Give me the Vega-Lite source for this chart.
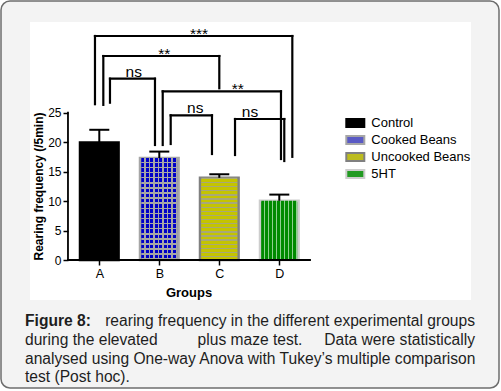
{
"$schema": "https://vega.github.io/schema/vega-lite/v6.json",
"width": 498, "height": 387,
"autosize": "none",
"padding": {"left": 1, "top": 1, "right": 2, "bottom": 3},
"background": "white",
"config": {"view": {"fill": "#f3f3f3", "stroke": "#6e6e6e", "strokeWidth": 1.5, "cornerRadius": 9}, "font": "Liberation Sans"},
"datasets": {
 "one": [{}],
 "bars": [
  {"group": "A", "name": "Control", "pos": 1, "mean": 19.95, "upper": 22.1},
  {"group": "B", "name": "Cooked Beans", "pos": 2, "mean": 17.3, "upper": 18.4},
  {"group": "C", "name": "Uncooked Beans", "pos": 3, "mean": 13.95, "upper": 14.55},
  {"group": "D", "name": "5HT", "pos": 4, "mean": 10.05, "upper": 11.1}
 ],
 "brackets": [
  {"x1": 0.928, "x2": 4.217, "top": 38.02, "b1": 26.44, "b2": 17.51, "lx": 2.662, "label": "***"},
  {"x1": 1.067, "x2": 3.0, "top": 34.62, "b1": 26.33, "b2": 29.15, "lx": 2.083, "label": "**"},
  {"x1": 1.178, "x2": 1.928, "top": 30.77, "b1": 26.7, "b2": 19.52, "lx": 1.575, "label": "ns"},
  {"x1": 2.057, "x2": 4.028, "top": 28.63, "b1": 19.52, "b2": 17.14, "lx": 3.308, "label": "**"},
  {"x1": 2.19, "x2": 2.878, "top": 24.56, "b1": 19.69, "b2": 17.99, "lx": 2.6, "label": "ns"},
  {"x1": 3.262, "x2": 4.083, "top": 23.93, "b1": 17.82, "b2": 16.8, "lx": 3.512, "label": "ns"}
 ],
 "caption": [
  {"line": 1, "part": "bold", "text": "Figure 8:"},
  {"line": 1, "part": "right", "text": "rearing frequency in the different experimental groups"},
  {"line": 2, "part": "left", "text": "during the elevated"},
  {"line": 2, "part": "center", "text": "plus maze test."},
  {"line": 2, "part": "right", "text": "Data were statistically"},
  {"line": 3, "part": "left", "text": "analysed using One-way Anova with Tukey’s multiple comparison"},
  {"line": 4, "part": "left", "text": "test (Post hoc)."}
 ]
},
"layer": [
 {
  "layer": [
   {"data": {"name": "one"}, "mark": {"type": "rect", "fill": "white"},
    "encoding": {"x": {"datum": -0.155}, "x2": {"datum": 7.195}, "y": {"datum": 40.39}, "y2": {"datum": -6.789}}},
   {"data": {"name": "bars"}, "mark": {"type": "bar", "orient": "vertical", "size": 38.5, "strokeWidth": 2.6},
    "encoding": {
     "x": {"field": "pos", "type": "quantitative", "scale": {"domain": [-0.6383, 7.6617], "nice": false, "zero": false, "padding": 0},
      "axis": {"zindex": 1, "values": [1, 2, 3, 4], "labelExpr": "['','A','B','C','D'][datum.value]", "domain": false, "grid": false, "offset": -128, "tickSize": 5, "tickWidth": 1.5, "tickColor": "black", "labelFontSize": 12.5, "labelColor": "black", "labelPadding": 2, "labelFlush": false, "labelOverlap": false, "title": "Groups", "titleFontSize": 13, "titleFontWeight": "bold", "titleColor": "black", "titleX": 187.5, "titleY": 32.7, "titleAlign": "center", "titleBaseline": "middle"}},
     "y": {"field": "mean", "type": "quantitative", "scale": {"domain": [-21.724, 43.958], "nice": false, "zero": false, "padding": 0},
      "axis": {"zindex": 1, "values": [0, 5, 10, 15, 20, 25], "domain": false, "grid": false, "offset": -67, "tickSize": 5, "tickWidth": 1.5, "tickColor": "black", "labelFontSize": 12, "labelColor": "black", "labelPadding": 2, "labelFlush": false, "labelOverlap": false, "title": "Rearing frequency (/5min)", "titleFontSize": 12, "titleFontWeight": "bold", "titleColor": "black", "titleX": -29.5, "titleY": 185, "titleAlign": "center", "titleBaseline": "middle", "titleAngle": -90}},
     "y2": {"datum": 0},
     "fill": {"field": "name", "type": "nominal",
      "scale": {"domain": ["Control", "Cooked Beans", "Uncooked Beans", "5HT"], "range": ["#000000", "#5a5ac4", "#bcbc20", "#229a22"]},
      "legend": {"title": null, "orient": "none", "legendX": 346.3, "legendY": 114, "padding": 0, "symbolType": "M-1.35,-0.6H1.35V0.6H-1.35Z", "symbolSize": 178, "symbolStrokeWidth": 2, "symbolOpacity": 1, "labelFontSize": 13, "labelFont": "Liberation Sans", "labelColor": "black", "labelOffset": 8, "rowPadding": -1.4}},
     "stroke": {"field": "name", "type": "nominal",
      "scale": {"domain": ["Control", "Cooked Beans", "Uncooked Beans", "5HT"], "range": ["#000000", "#a6a6a6", "#808080", "#cdcdcd"]},
      "legend": {"title": null, "orient": "none", "legendX": 346.3, "legendY": 114, "padding": 0, "symbolType": "M-1.35,-0.6H1.35V0.6H-1.35Z", "symbolSize": 178, "symbolStrokeWidth": 2, "symbolOpacity": 1, "labelFontSize": 13, "labelFont": "Liberation Sans", "labelColor": "black", "labelOffset": 8, "rowPadding": -1.4}}
    }},
   {"data": {"name": "bars"}, "transform": [{"filter": "datum.group == 'B'"}],
    "mark": {"type": "bar", "orient": "vertical", "size": 36, "strokeWidth": 0,
     "fill": {"gradient": "linear", "x1": 0, "y1": 0, "x2": 1, "y2": 0, "stops": [
         {"offset": 0, "color": "#0000c8"}, {"offset": 0.0875, "color": "#0000c8"}, {"offset": 0.0875, "color": "#a6a6a6"}, {"offset": 0.125, "color": "#a6a6a6"},
         {"offset": 0.125, "color": "#0000c8"}, {"offset": 0.2125, "color": "#0000c8"}, {"offset": 0.2125, "color": "#a6a6a6"}, {"offset": 0.25, "color": "#a6a6a6"},
         {"offset": 0.25, "color": "#0000c8"}, {"offset": 0.3375, "color": "#0000c8"}, {"offset": 0.3375, "color": "#a6a6a6"}, {"offset": 0.375, "color": "#a6a6a6"},
         {"offset": 0.375, "color": "#0000c8"}, {"offset": 0.4625, "color": "#0000c8"}, {"offset": 0.4625, "color": "#a6a6a6"}, {"offset": 0.5, "color": "#a6a6a6"},
         {"offset": 0.5, "color": "#0000c8"}, {"offset": 0.5875, "color": "#0000c8"}, {"offset": 0.5875, "color": "#a6a6a6"}, {"offset": 0.625, "color": "#a6a6a6"},
         {"offset": 0.625, "color": "#0000c8"}, {"offset": 0.7125, "color": "#0000c8"}, {"offset": 0.7125, "color": "#a6a6a6"}, {"offset": 0.75, "color": "#a6a6a6"},
         {"offset": 0.75, "color": "#0000c8"}, {"offset": 0.8375, "color": "#0000c8"}, {"offset": 0.8375, "color": "#a6a6a6"}, {"offset": 0.875, "color": "#a6a6a6"},
         {"offset": 0.875, "color": "#0000c8"}, {"offset": 0.9625, "color": "#0000c8"}, {"offset": 0.9625, "color": "#a6a6a6"}, {"offset": 1, "color": "#a6a6a6"}
     ]}},
    "encoding": {"x": {"field": "pos", "type": "quantitative"}, "y": {"field": "mean", "type": "quantitative"}, "y2": {"datum": 0}}},
   {"data": {"name": "bars"}, "transform": [{"filter": "datum.group == 'B'"}],
    "mark": {"type": "bar", "orient": "vertical", "size": 36, "strokeWidth": 0,
     "fill": {"gradient": "linear", "x1": 0, "y1": 0, "x2": 0, "y2": 1, "stops": [
      {"offset": 0, "color": "rgba(166,166,166,0)"}, {"offset": 0.035, "color": "rgba(166,166,166,0)"}, {"offset": 0.035, "color": "#a6a6a6"}, {"offset": 0.05, "color": "#a6a6a6"},
      {"offset": 0.05, "color": "rgba(166,166,166,0)"}, {"offset": 0.085, "color": "rgba(166,166,166,0)"}, {"offset": 0.085, "color": "#a6a6a6"}, {"offset": 0.1, "color": "#a6a6a6"},
      {"offset": 0.1, "color": "rgba(166,166,166,0)"}, {"offset": 0.135, "color": "rgba(166,166,166,0)"}, {"offset": 0.135, "color": "#a6a6a6"}, {"offset": 0.15, "color": "#a6a6a6"},
      {"offset": 0.15, "color": "rgba(166,166,166,0)"}, {"offset": 0.185, "color": "rgba(166,166,166,0)"}, {"offset": 0.185, "color": "#a6a6a6"}, {"offset": 0.2, "color": "#a6a6a6"},
      {"offset": 0.2, "color": "rgba(166,166,166,0)"}, {"offset": 0.235, "color": "rgba(166,166,166,0)"}, {"offset": 0.235, "color": "#a6a6a6"}, {"offset": 0.25, "color": "#a6a6a6"},
      {"offset": 0.25, "color": "rgba(166,166,166,0)"}, {"offset": 0.285, "color": "rgba(166,166,166,0)"}, {"offset": 0.285, "color": "#a6a6a6"}, {"offset": 0.3, "color": "#a6a6a6"},
      {"offset": 0.3, "color": "rgba(166,166,166,0)"}, {"offset": 0.335, "color": "rgba(166,166,166,0)"}, {"offset": 0.335, "color": "#a6a6a6"}, {"offset": 0.35, "color": "#a6a6a6"},
      {"offset": 0.35, "color": "rgba(166,166,166,0)"}, {"offset": 0.385, "color": "rgba(166,166,166,0)"}, {"offset": 0.385, "color": "#a6a6a6"}, {"offset": 0.4, "color": "#a6a6a6"},
      {"offset": 0.4, "color": "rgba(166,166,166,0)"}, {"offset": 0.435, "color": "rgba(166,166,166,0)"}, {"offset": 0.435, "color": "#a6a6a6"}, {"offset": 0.45, "color": "#a6a6a6"},
      {"offset": 0.45, "color": "rgba(166,166,166,0)"}, {"offset": 0.485, "color": "rgba(166,166,166,0)"}, {"offset": 0.485, "color": "#a6a6a6"}, {"offset": 0.5, "color": "#a6a6a6"},
      {"offset": 0.5, "color": "rgba(166,166,166,0)"}, {"offset": 0.535, "color": "rgba(166,166,166,0)"}, {"offset": 0.535, "color": "#a6a6a6"}, {"offset": 0.55, "color": "#a6a6a6"},
      {"offset": 0.55, "color": "rgba(166,166,166,0)"}, {"offset": 0.585, "color": "rgba(166,166,166,0)"}, {"offset": 0.585, "color": "#a6a6a6"}, {"offset": 0.6, "color": "#a6a6a6"},
      {"offset": 0.6, "color": "rgba(166,166,166,0)"}, {"offset": 0.635, "color": "rgba(166,166,166,0)"}, {"offset": 0.635, "color": "#a6a6a6"}, {"offset": 0.65, "color": "#a6a6a6"},
      {"offset": 0.65, "color": "rgba(166,166,166,0)"}, {"offset": 0.685, "color": "rgba(166,166,166,0)"}, {"offset": 0.685, "color": "#a6a6a6"}, {"offset": 0.7, "color": "#a6a6a6"},
      {"offset": 0.7, "color": "rgba(166,166,166,0)"}, {"offset": 0.735, "color": "rgba(166,166,166,0)"}, {"offset": 0.735, "color": "#a6a6a6"}, {"offset": 0.75, "color": "#a6a6a6"},
      {"offset": 0.75, "color": "rgba(166,166,166,0)"}, {"offset": 0.785, "color": "rgba(166,166,166,0)"}, {"offset": 0.785, "color": "#a6a6a6"}, {"offset": 0.8, "color": "#a6a6a6"},
      {"offset": 0.8, "color": "rgba(166,166,166,0)"}, {"offset": 0.835, "color": "rgba(166,166,166,0)"}, {"offset": 0.835, "color": "#a6a6a6"}, {"offset": 0.85, "color": "#a6a6a6"},
      {"offset": 0.85, "color": "rgba(166,166,166,0)"}, {"offset": 0.885, "color": "rgba(166,166,166,0)"}, {"offset": 0.885, "color": "#a6a6a6"}, {"offset": 0.9, "color": "#a6a6a6"},
      {"offset": 0.9, "color": "rgba(166,166,166,0)"}, {"offset": 0.935, "color": "rgba(166,166,166,0)"}, {"offset": 0.935, "color": "#a6a6a6"}, {"offset": 0.95, "color": "#a6a6a6"},
      {"offset": 0.95, "color": "rgba(166,166,166,0)"}, {"offset": 0.985, "color": "rgba(166,166,166,0)"}, {"offset": 0.985, "color": "#a6a6a6"}, {"offset": 1, "color": "#a6a6a6"}
     ]}},
    "encoding": {"x": {"field": "pos", "type": "quantitative"}, "y": {"field": "mean", "type": "quantitative"}, "y2": {"datum": 0}}},
   {"data": {"name": "bars"}, "transform": [{"filter": "datum.group == 'C'"}],
    "mark": {"type": "bar", "orient": "vertical", "size": 36, "strokeWidth": 0,
     "fill": {"gradient": "linear", "x1": 0, "y1": 0, "x2": 0, "y2": 1, "stops": [
         {"offset": 0, "color": "#a8a878"}, {"offset": 0.016, "color": "#a8a878"}, {"offset": 0.016, "color": "#c4c400"}, {"offset": 0.05, "color": "#c4c400"},
         {"offset": 0.05, "color": "#a8a878"}, {"offset": 0.066, "color": "#a8a878"}, {"offset": 0.066, "color": "#c4c400"}, {"offset": 0.1, "color": "#c4c400"},
         {"offset": 0.1, "color": "#a8a878"}, {"offset": 0.116, "color": "#a8a878"}, {"offset": 0.116, "color": "#c4c400"}, {"offset": 0.15, "color": "#c4c400"},
         {"offset": 0.15, "color": "#a8a878"}, {"offset": 0.166, "color": "#a8a878"}, {"offset": 0.166, "color": "#c4c400"}, {"offset": 0.2, "color": "#c4c400"},
         {"offset": 0.2, "color": "#a8a878"}, {"offset": 0.216, "color": "#a8a878"}, {"offset": 0.216, "color": "#c4c400"}, {"offset": 0.25, "color": "#c4c400"},
         {"offset": 0.25, "color": "#a8a878"}, {"offset": 0.266, "color": "#a8a878"}, {"offset": 0.266, "color": "#c4c400"}, {"offset": 0.3, "color": "#c4c400"},
         {"offset": 0.3, "color": "#a8a878"}, {"offset": 0.316, "color": "#a8a878"}, {"offset": 0.316, "color": "#c4c400"}, {"offset": 0.35, "color": "#c4c400"},
         {"offset": 0.35, "color": "#a8a878"}, {"offset": 0.366, "color": "#a8a878"}, {"offset": 0.366, "color": "#c4c400"}, {"offset": 0.4, "color": "#c4c400"},
         {"offset": 0.4, "color": "#a8a878"}, {"offset": 0.416, "color": "#a8a878"}, {"offset": 0.416, "color": "#c4c400"}, {"offset": 0.45, "color": "#c4c400"},
         {"offset": 0.45, "color": "#a8a878"}, {"offset": 0.466, "color": "#a8a878"}, {"offset": 0.466, "color": "#c4c400"}, {"offset": 0.5, "color": "#c4c400"},
         {"offset": 0.5, "color": "#a8a878"}, {"offset": 0.516, "color": "#a8a878"}, {"offset": 0.516, "color": "#c4c400"}, {"offset": 0.55, "color": "#c4c400"},
         {"offset": 0.55, "color": "#a8a878"}, {"offset": 0.566, "color": "#a8a878"}, {"offset": 0.566, "color": "#c4c400"}, {"offset": 0.6, "color": "#c4c400"},
         {"offset": 0.6, "color": "#a8a878"}, {"offset": 0.616, "color": "#a8a878"}, {"offset": 0.616, "color": "#c4c400"}, {"offset": 0.65, "color": "#c4c400"},
         {"offset": 0.65, "color": "#a8a878"}, {"offset": 0.666, "color": "#a8a878"}, {"offset": 0.666, "color": "#c4c400"}, {"offset": 0.7, "color": "#c4c400"},
         {"offset": 0.7, "color": "#a8a878"}, {"offset": 0.716, "color": "#a8a878"}, {"offset": 0.716, "color": "#c4c400"}, {"offset": 0.75, "color": "#c4c400"},
         {"offset": 0.75, "color": "#a8a878"}, {"offset": 0.766, "color": "#a8a878"}, {"offset": 0.766, "color": "#c4c400"}, {"offset": 0.8, "color": "#c4c400"},
         {"offset": 0.8, "color": "#a8a878"}, {"offset": 0.816, "color": "#a8a878"}, {"offset": 0.816, "color": "#c4c400"}, {"offset": 0.85, "color": "#c4c400"},
         {"offset": 0.85, "color": "#a8a878"}, {"offset": 0.866, "color": "#a8a878"}, {"offset": 0.866, "color": "#c4c400"}, {"offset": 0.9, "color": "#c4c400"},
         {"offset": 0.9, "color": "#a8a878"}, {"offset": 0.916, "color": "#a8a878"}, {"offset": 0.916, "color": "#c4c400"}, {"offset": 0.95, "color": "#c4c400"},
         {"offset": 0.95, "color": "#a8a878"}, {"offset": 0.966, "color": "#a8a878"}, {"offset": 0.966, "color": "#c4c400"}, {"offset": 1, "color": "#c4c400"}
     ]}},
    "encoding": {"x": {"field": "pos", "type": "quantitative"}, "y": {"field": "mean", "type": "quantitative"}, "y2": {"datum": 0}}},
   {"data": {"name": "bars"}, "transform": [{"filter": "datum.group == 'D'"}],
    "mark": {"type": "bar", "orient": "vertical", "size": 36, "strokeWidth": 0,
     "fill": {"gradient": "linear", "x1": 0, "y1": 0, "x2": 1, "y2": 0, "stops": [
         {"offset": 0, "color": "#008a00"}, {"offset": 0.081, "color": "#008a00"}, {"offset": 0.081, "color": "#8fcf8f"}, {"offset": 0.1111, "color": "#8fcf8f"},
         {"offset": 0.1111, "color": "#008a00"}, {"offset": 0.1921, "color": "#008a00"}, {"offset": 0.1921, "color": "#8fcf8f"}, {"offset": 0.2222, "color": "#8fcf8f"},
         {"offset": 0.2222, "color": "#008a00"}, {"offset": 0.3032, "color": "#008a00"}, {"offset": 0.3032, "color": "#8fcf8f"}, {"offset": 0.3333, "color": "#8fcf8f"},
         {"offset": 0.3333, "color": "#008a00"}, {"offset": 0.4143, "color": "#008a00"}, {"offset": 0.4143, "color": "#8fcf8f"}, {"offset": 0.4444, "color": "#8fcf8f"},
         {"offset": 0.4444, "color": "#008a00"}, {"offset": 0.5254, "color": "#008a00"}, {"offset": 0.5254, "color": "#8fcf8f"}, {"offset": 0.5556, "color": "#8fcf8f"},
         {"offset": 0.5556, "color": "#008a00"}, {"offset": 0.6366, "color": "#008a00"}, {"offset": 0.6366, "color": "#8fcf8f"}, {"offset": 0.6667, "color": "#8fcf8f"},
         {"offset": 0.6667, "color": "#008a00"}, {"offset": 0.7477, "color": "#008a00"}, {"offset": 0.7477, "color": "#8fcf8f"}, {"offset": 0.7778, "color": "#8fcf8f"},
         {"offset": 0.7778, "color": "#008a00"}, {"offset": 0.8588, "color": "#008a00"}, {"offset": 0.8588, "color": "#8fcf8f"}, {"offset": 0.8889, "color": "#8fcf8f"},
         {"offset": 0.8889, "color": "#008a00"}, {"offset": 0.9699, "color": "#008a00"}, {"offset": 0.9699, "color": "#8fcf8f"}, {"offset": 1, "color": "#8fcf8f"}
     ]}},
    "encoding": {"x": {"field": "pos", "type": "quantitative"}, "y": {"field": "mean", "type": "quantitative"}, "y2": {"datum": 0}}},
   {"data": {"name": "bars"}, "mark": {"type": "rule", "color": "black", "strokeWidth": 2},
    "encoding": {"x": {"field": "pos", "type": "quantitative"}, "y": {"field": "mean", "type": "quantitative"}, "y2": {"field": "upper"}}},
   {"data": {"name": "bars"}, "mark": {"type": "tick", "orient": "horizontal", "color": "black", "size": 20, "thickness": 2, "opacity": 1},
    "encoding": {"x": {"field": "pos", "type": "quantitative"}, "y": {"field": "upper", "type": "quantitative"}}},
   {"data": {"name": "one"}, "mark": {"type": "rule", "color": "black", "strokeWidth": 1.8, "strokeCap": "square"},
    "encoding": {"x": {"datum": 0.478}, "y": {"datum": 0}, "y2": {"datum": 25}}},
   {"data": {"name": "one"}, "mark": {"type": "rule", "color": "black", "strokeWidth": 1.8, "strokeCap": "square"},
    "encoding": {"x": {"datum": 0.478}, "x2": {"datum": 4.512}, "y": {"datum": 0}}},
   {"data": {"name": "brackets"}, "mark": {"type": "rule", "color": "black", "strokeWidth": 2.2, "strokeCap": "square"},
    "encoding": {"x": {"field": "x1", "type": "quantitative"}, "x2": {"field": "x2"}, "y": {"field": "top", "type": "quantitative"}}},
   {"data": {"name": "brackets"}, "mark": {"type": "rule", "color": "black", "strokeWidth": 2.2, "strokeCap": "square"},
    "encoding": {"x": {"field": "x1", "type": "quantitative"}, "y": {"field": "top", "type": "quantitative"}, "y2": {"field": "b1"}}},
   {"data": {"name": "brackets"}, "mark": {"type": "rule", "color": "black", "strokeWidth": 2.2, "strokeCap": "square"},
    "encoding": {"x": {"field": "x2", "type": "quantitative"}, "y": {"field": "top", "type": "quantitative"}, "y2": {"field": "b2"}}},
   {"data": {"name": "brackets"}, "transform": [{"filter": "datum.label == 'ns'"}],
    "mark": {"type": "text", "font": "Liberation Sans", "fontSize": 15.5, "color": "black", "align": "center", "baseline": "alphabetic", "dy": -2},
    "encoding": {"x": {"field": "lx", "type": "quantitative"}, "y": {"field": "top", "type": "quantitative"}, "text": {"field": "label"}}},
   {"data": {"name": "brackets"}, "transform": [{"filter": "datum.label != 'ns'"}],
    "mark": {"type": "text", "font": "Liberation Sans", "fontSize": 15.5, "color": "black", "align": "center", "baseline": "alphabetic", "dy": 3},
    "encoding": {"x": {"field": "lx", "type": "quantitative"}, "y": {"field": "top", "type": "quantitative"}, "text": {"field": "label"}}}
  ]
 },
 {
  "data": {"name": "caption"},
  "encoding": {"y": {"field": "line", "type": "quantitative", "scale": {"domain": [-16.287, 4.298], "reverse": true, "nice": false, "zero": false, "padding": 0}, "axis": null}},
  "layer": [
   {"transform": [{"filter": "datum.part == 'bold'"}],
    "mark": {"type": "text", "font": "Liberation Sans", "fontSize": 15.6, "fontWeight": "bold", "color": "#1e1e1e", "align": "left", "baseline": "alphabetic"},
    "encoding": {"x": {"datum": -0.238}, "text": {"field": "text"}}},
   {"transform": [{"filter": "datum.part == 'left'"}],
    "mark": {"type": "text", "font": "Liberation Sans", "fontSize": 15.6, "color": "#1e1e1e", "align": "left", "baseline": "alphabetic"},
    "encoding": {"x": {"datum": -0.238}, "text": {"field": "text"}}},
   {"transform": [{"filter": "datum.part == 'center'"}],
    "mark": {"type": "text", "font": "Liberation Sans", "fontSize": 15.6, "color": "#1e1e1e", "align": "center", "baseline": "alphabetic"},
    "encoding": {"x": {"datum": 3.512}, "text": {"field": "text"}}},
   {"transform": [{"filter": "datum.part == 'right'"}],
    "mark": {"type": "text", "font": "Liberation Sans", "fontSize": 15.6, "color": "#1e1e1e", "align": "right", "baseline": "alphabetic"},
    "encoding": {"x": {"datum": 7.262}, "text": {"field": "text"}}}
  ]
 }
],
"resolve": {"scale": {"y": "independent"}}
}
